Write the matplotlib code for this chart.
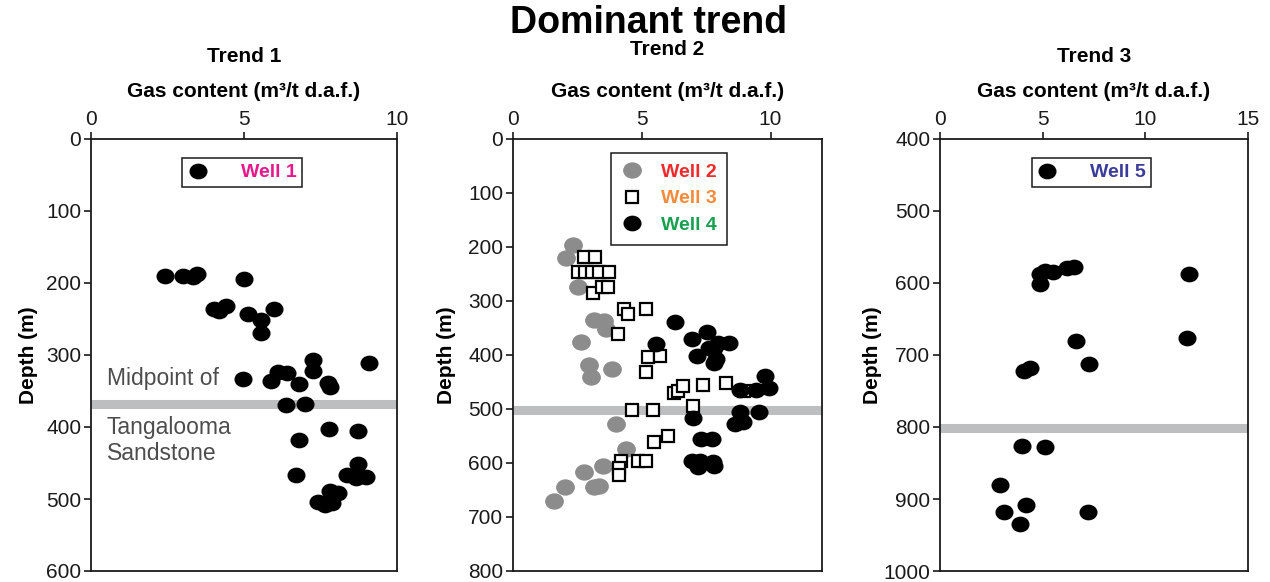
import numpy as np
import matplotlib
matplotlib.use('Agg')
import matplotlib.pyplot as plt
from matplotlib.path import Path
from matplotlib.transforms import Affine2D

plt.rcParams['font.family'] = ['Liberation Sans', 'DejaVu Sans']

# gas content (m3/t daf) and depth (m) per well
well1_gas = [2.42, 3.02, 3.32, 3.48, 4.99, 4.01, 4.18, 4.41, 5.13, 5.97, 5.57, 5.57,
             4.97, 5.88, 6.10, 6.40, 6.81, 7.27, 7.24, 7.75, 7.80, 9.09, 6.37, 7.00,
             7.79, 8.74, 6.81, 6.70, 8.74, 8.37, 8.65, 8.98, 7.42, 7.66, 7.88, 8.08, 7.82]
well1_depth = [190, 190, 191, 188, 194, 236, 239, 232, 243, 236, 252, 269,
               334, 336, 324, 325, 340, 307, 322, 339, 344, 311, 370, 368,
               403, 405, 418, 467, 451, 467, 471, 469, 504, 508, 506, 491, 489]

well2_gas = [2.33, 2.05, 2.52, 3.16, 3.52, 3.61, 2.66, 2.96, 3.03, 3.85, 4.00, 4.37,
             3.48, 2.74, 2.01, 3.16, 3.33, 1.59]
well2_depth = [197, 221, 274, 336, 337, 351, 376, 418, 440, 425, 527, 574,
               605, 617, 644, 645, 643, 670]

well3_gas = [2.74, 3.18, 2.54, 2.79, 3.06, 3.35, 3.72, 3.09, 3.46, 3.68, 4.33, 4.46,
             5.15, 4.07, 5.24, 5.72, 5.18, 6.26, 6.42, 6.61, 7.39, 8.28, 8.96, 7.00,
             4.62, 5.44, 6.02, 5.48, 4.20, 4.13, 4.11, 4.85, 5.18]
well3_depth = [219, 219, 246, 246, 246, 246, 246, 286, 275, 274, 314, 325,
               314, 362, 404, 402, 432, 471, 466, 457, 455, 452, 466, 495,
               502, 502, 550, 561, 596, 609, 622, 597, 596]

well4_gas = [6.31, 5.54, 6.96, 7.55, 7.13, 7.95, 8.37, 7.63, 7.82, 7.89, 7.81, 9.80,
             9.45, 9.93, 8.80, 6.98, 8.80, 8.63, 8.93, 9.54, 7.30, 7.72, 6.94, 7.26,
             7.20, 7.76, 7.79]
well4_depth = [338, 380, 371, 358, 402, 378, 377, 387, 387, 408, 415, 439,
               464, 461, 464, 516, 505, 527, 524, 505, 555, 555, 597, 596,
               607, 598, 605]

well5_gas = [4.85, 5.10, 5.49, 4.89, 6.18, 6.54, 12.14, 6.60, 12.04, 7.28, 4.08, 4.40,
             4.00, 5.10, 2.91, 3.11, 4.19, 3.88, 7.20]
well5_depth = [588, 584, 585, 601, 579, 578, 587, 680, 676, 713, 722, 718,
               826, 828, 881, 918, 908, 935, 918]

# Tangalooma Sandstone midpoint depth for each trend
midpoints = [368, 502, 802]

titles = ['Trend 1', 'Trend 2', 'Trend 3']
xlims = [(0, 10), (0, 12), (0, 15)]
xticks = [[0, 5, 10], [0, 5, 10], [0, 5, 10, 15]]
ylims = [(600, 0), (800, 0), (1000, 400)]
yticks = [np.arange(0, 601, 100), np.arange(0, 801, 100), np.arange(400, 1001, 100)]

# slightly flattened dot
dot = Path.unit_circle().transformed(Affine2D().scale(1.0, 0.86))
band_col = '#bdbec0'

fig = plt.figure(figsize=(12.7, 5.82), dpi=100)
W, H = 1270, 582
boxes = [(91, 397), (513, 822), (940, 1248)]
top, bot = 139, 571
axes = []
for (l, r) in boxes:
    axes.append(fig.add_axes([l / W, 1 - bot / H, (r - l) / W, (bot - top) / H]))

for i, ax in enumerate(axes):
    ax.set_xlim(*xlims[i])
    ax.set_ylim(*ylims[i])
    ax.set_xticks(xticks[i])
    ax.set_yticks(yticks[i])
    ax.xaxis.tick_top()
    ax.tick_params(direction='out', length=5, width=1.2, labelsize=15,
                   colors='#1a1a1a', pad=2)
    for s in ax.spines.values():
        s.set_linewidth(1.3)
        s.set_color('#1a1a1a')
    ax.axhline(midpoints[i], color=band_col, lw=6.5, zorder=1)
    ax.set_xlabel('Gas content (m³/t d.a.f.)', fontsize=15, fontweight='bold')
    ax.xaxis.set_label_position('top')
    ax.xaxis.set_label_coords(0.5, 1 + (top - 92) / (bot - top))
    ax.xaxis.label.set_va('center')
    ax.set_ylabel('Depth (m)', fontsize=15, fontweight='bold')
    ax.yaxis.label.set_va('center')
    ty = 50 if i == 1 else 57
    ax.text(0.5, 1 + (top - ty) / (bot - top), titles[i], transform=ax.transAxes,
            ha='center', va='center', fontsize=15, fontweight='bold')

axes[0].yaxis.set_label_coords(-63 / 306, 0.5)
axes[1].yaxis.set_label_coords(-66 / 309, 0.5)
axes[2].yaxis.set_label_coords(-68 / 308, 0.5)

leg_kw = dict(loc='upper center', frameon=True, fancybox=False, edgecolor='#1a1a1a',
              framealpha=1, prop={'weight': 'bold', 'size': 14},
              handlelength=1.0, borderaxespad=0)

# Trend 1
ax = axes[0]
ax.plot(well1_gas, well1_depth, ls='none', marker=dot, ms=12, color='black',
        zorder=3, label='Well 1')
for txt, d in [('Midpoint of', 332), ('Tangalooma', 401), ('Sandstone', 437)]:
    ax.text(0.52, d, txt, fontsize=16.5, color='#4d4d4d', va='center')
leg = ax.legend(bbox_to_anchor=(0.494, 0.956), handletextpad=1.7,
                borderpad=0.3, **leg_kw)
leg.get_frame().set_linewidth(1.1)
leg.get_texts()[0].set_color('#e6188c')

# Trend 2
ax = axes[1]
ax.plot(well2_gas, well2_depth, ls='none', marker=dot, ms=12.5, color='#8c8c8c',
        zorder=2, label='Well 2')
ax.plot(well3_gas, well3_depth, ls='none', marker='s', ms=9, mfc='white',
        mec='black', mew=1.6, zorder=3, label='Well 3')
ax.plot(well4_gas, well4_depth, ls='none', marker=dot, ms=12, color='black',
        zorder=4, label='Well 4')
leg = ax.legend(bbox_to_anchor=(0.506, 0.968), handletextpad=1.0,
                borderpad=0.55, labelspacing=0.45, **leg_kw)
leg.get_frame().set_linewidth(1.1)
for t, c in zip(leg.get_texts(), ['#ee2a2a', '#f58a3a', '#17a050']):
    t.set_color(c)

# Trend 3
ax = axes[2]
ax.plot(well5_gas, well5_depth, ls='none', marker=dot, ms=12, color='black',
        zorder=3, label='Well 5')
leg = ax.legend(bbox_to_anchor=(0.492, 0.956), handletextpad=1.7,
                borderpad=0.3, **leg_kw)
leg.get_frame().set_linewidth(1.1)
leg.get_texts()[0].set_color('#3b3b9a')

fig.text(649 / W, 1 - 23 / H, 'Dominant trend', ha='center', va='center',
         fontsize=27, fontweight='bold')

fig.savefig('out.png', dpi=100)
